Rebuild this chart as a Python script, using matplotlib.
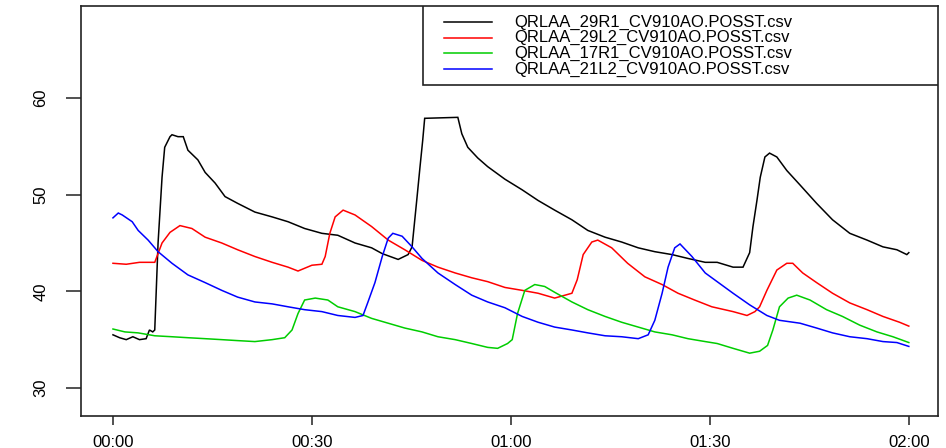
import matplotlib
matplotlib.use("Agg")
import matplotlib.pyplot as plt
from matplotlib.patches import Rectangle

# ---------------- data (minutes since 00:00, values) ----------------
series_names = ["QRLAA_29R1_CV910AO.POSST.csv", "QRLAA_29L2_CV910AO.POSST.csv",
                "QRLAA_17R1_CV910AO.POSST.csv", "QRLAA_21L2_CV910AO.POSST.csv"]
series_colors = ["#000000", "#FF0000", "#00CD00", "#0000FF"]

t_29r1 = [0, 1, 2, 3, 4, 5, 5.5, 6.0, 6.3, 6.8, 7.4, 7.8, 8.6, 8.9, 9.8, 10.6, 11.3, 12.8,
          13.9, 15.4, 16.9, 18.8, 21.4, 24.0, 26.4, 28.9, 31.5, 33.9, 36.5, 39.0, 40.6, 43.0,
          44.5, 45.1, 45.8, 46.3, 46.7, 47.0, 52.0, 52.6, 53.5, 55.0, 56.5, 59.1, 61.7, 64.1,
          66.6, 69.2, 71.6, 74.2, 76.7, 79.2, 81.7, 84.3, 86.7, 89.3, 91.1, 93.5, 95.0, 96.0,
          96.5, 97.1, 97.6, 98.3, 99.0, 100.1, 101.6, 103.6, 106.1, 108.5, 111.1, 113.7, 116.1,
          118.2, 119.7, 120]
v_29r1 = [35.5, 35.2, 35.0, 35.3, 35.0, 35.1, 36.0, 35.8, 36.0, 45.0, 51.8, 54.9, 56.0, 56.2,
          56.0, 56.0, 54.6, 53.6, 52.3, 51.2, 49.8, 49.1, 48.2, 47.7, 47.2, 46.5, 46.0, 45.8,
          45.0, 44.5, 43.9, 43.3, 43.8, 44.6, 49.4, 52.9, 55.6, 57.9, 58.0, 56.3, 54.9, 53.8,
          52.9, 51.6, 50.5, 49.4, 48.4, 47.4, 46.3, 45.6, 45.1, 44.5, 44.1, 43.8, 43.4, 43.0,
          43.0, 42.5, 42.5, 44.0, 46.7, 49.4, 51.8, 53.9, 54.3, 53.9, 52.5, 51.0, 49.1, 47.4,
          46.0, 45.3, 44.6, 44.3, 43.8, 44.0]

t_29l2 = [0, 2, 4, 6.3, 7.4, 8.6, 10.1, 11.9, 13.9, 16.4, 18.8, 21.4, 24.0, 26.4, 27.9, 30.0,
          31.5, 32.0, 32.7, 33.5, 34.7, 36.5, 39.0, 41.5, 44.0, 46.6, 49.0, 51.6, 54.1, 56.5,
          59.1, 61.7, 64.1, 66.6, 69.2, 70.0, 70.9, 72.2, 73.1, 75.2, 77.6, 80.2, 82.8, 85.2,
          87.7, 90.3, 93.5, 95.6, 96.8, 97.5, 98.6, 100.1, 101.6, 102.5, 104.0, 106.1, 108.5,
          111.1, 113.7, 116.1, 118.6, 120]
v_29l2 = [42.9, 42.8, 43.0, 43.0, 45.0, 46.1, 46.8, 46.5, 45.6, 45.0, 44.3, 43.6, 43.0, 42.5,
          42.1, 42.7, 42.8, 43.6, 46.0, 47.7, 48.4, 47.9, 46.7, 45.3, 44.3, 43.2, 42.5, 41.9,
          41.4, 41.0, 40.4, 40.1, 39.8, 39.3, 39.8, 41.2, 43.8, 45.1, 45.3, 44.5, 42.9, 41.5,
          40.7, 39.8, 39.1, 38.4, 37.9, 37.5, 37.9, 38.4, 40.1, 42.2, 42.9, 42.9, 41.9, 40.9,
          39.8, 38.8, 38.1, 37.4, 36.8, 36.4]

t_17r1 = [0, 1.8, 3.8, 6.3, 8.9, 11.3, 13.9, 16.4, 18.8, 21.4, 24.0, 25.9, 27.0, 27.9, 28.9,
          30.5, 32.4, 33.9, 36.5, 39.0, 41.5, 44.0, 46.6, 49.0, 51.6, 54.1, 56.5, 58.0, 59.5,
          60.2, 61.0, 62.1, 63.6, 65.1, 66.6, 69.2, 71.6, 74.2, 76.7, 79.2, 81.7, 84.3, 86.7,
          89.3, 91.1, 93.5, 96.0, 97.5, 98.7, 99.5, 100.5, 101.8, 103.1, 105.1, 107.6, 110.0,
          112.6, 115.2, 117.6, 120]
v_17r1 = [36.1, 35.8, 35.7, 35.4, 35.3, 35.2, 35.1, 35.0, 34.9, 34.8, 35.0, 35.2, 36.0, 37.7,
          39.1, 39.3, 39.1, 38.4, 37.9, 37.2, 36.7, 36.2, 35.8, 35.3, 35.0, 34.6, 34.2, 34.1,
          34.6, 35.0, 37.7, 40.1, 40.7, 40.5, 39.9, 38.9, 38.1, 37.4, 36.8, 36.3, 35.8, 35.5,
          35.1, 34.8, 34.6, 34.1, 33.6, 33.8, 34.4, 36.0, 38.4, 39.3, 39.6, 39.1, 38.1, 37.4,
          36.5, 35.8, 35.3, 34.7]

t_21l2 = [0, 0.8, 1.4, 2.9, 3.8, 5.3, 6.8, 8.9, 11.3, 13.9, 16.4, 18.8, 21.4, 24.0, 26.4,
          28.9, 31.5, 33.9, 36.5, 37.7, 38.4, 39.5, 40.6, 41.5, 42.2, 43.6, 45.1, 46.6, 49.0,
          51.6, 54.1, 56.5, 59.1, 61.7, 64.1, 66.6, 69.2, 71.6, 74.2, 76.7, 79.2, 80.7, 81.7,
          82.8, 83.7, 84.7, 85.5, 87.3, 89.3, 91.1, 93.5, 96.0, 98.6, 100.5, 103.6, 106.1,
          108.5, 111.1, 113.7, 116.1, 118.2, 120]
v_21l2 = [47.6, 48.1, 47.9, 47.2, 46.3, 45.3, 44.1, 42.9, 41.7, 40.9, 40.1, 39.4, 38.9, 38.7,
          38.4, 38.1, 37.9, 37.5, 37.3, 37.5, 38.8, 40.9, 43.6, 45.5, 46.0, 45.7, 44.6, 43.4,
          41.9, 40.7, 39.6, 38.9, 38.3, 37.4, 36.8, 36.3, 36.0, 35.7, 35.4, 35.3, 35.1, 35.5,
          37.0, 39.8, 42.5, 44.5, 44.9, 43.6, 41.9, 41.0, 39.8, 38.6, 37.5, 37.0, 36.7, 36.2,
          35.7, 35.3, 35.1, 34.8, 34.7, 34.3]

x_ticks = [0, 30, 60, 90, 120]
x_tick_labels = ["00:00", "00:30", "01:00", "01:30", "02:00"]
y_ticks = [30, 40, 50, 60]
y_tick_labels = ["30", "40", "50", "60"]

# ---------------- figure ----------------
W, H = 946, 448
fig = plt.figure(figsize=(W / 100, H / 100), dpi=100)
L, R, T, B = 81, 938, 6, 416
ax = fig.add_axes([L / W, 1 - B / H, (R - L) / W, (B - T) / H])

font = "Liberation Sans"
series_t = [t_29r1, t_29l2, t_17r1, t_21l2]
series_v = [v_29r1, v_29l2, v_17r1, v_21l2]
for tt, vv, c in zip(series_t, series_v, series_colors):
    ax.plot(tt, vv, color=c, lw=1.1, solid_joinstyle="miter")

ax.set_xlim(-4.82, 124.4)
ax.set_ylim(27.10, 69.52)

ax.set_xticks(x_ticks)
ax.set_xticklabels(x_tick_labels, fontfamily=font, fontsize=12)
ax.set_yticks(y_ticks)
ax.set_yticklabels(y_tick_labels, fontfamily=font, fontsize=12, rotation=90, va="center")
ax.tick_params(axis="x", length=6.5, width=1.1, pad=7, color="#222222")
ax.tick_params(axis="y", length=10.5, width=1.1, pad=13, color="#222222")
for s in ax.spines.values():
    s.set_linewidth(1.2)
    s.set_color("#222222")

# ---------------- legend (R style, top right) ----------------
def axx(px):
    return (px - L) / (R - L)

def axy(py):
    return (B - py) / (B - T)

box_x0, box_y0 = axx(423), axy(85)
ax.add_patch(Rectangle((box_x0, box_y0), 1 - box_x0, 1 - box_y0, transform=ax.transAxes,
                       fill=True, facecolor="white", edgecolor="#222222", lw=1.2, zorder=5))
row_y = [22, 37.5, 53, 69]
for name, c, py in zip(series_names, series_colors, row_y):
    ax.plot([axx(444), axx(492)], [axy(py), axy(py)], transform=ax.transAxes,
            color=c, lw=1.1, zorder=6, clip_on=False)
    ax.text(axx(514), axy(py), name, transform=ax.transAxes, fontfamily=font,
            fontsize=12, va="center", ha="left", zorder=6)

fig.savefig("out.png", dpi=100)
